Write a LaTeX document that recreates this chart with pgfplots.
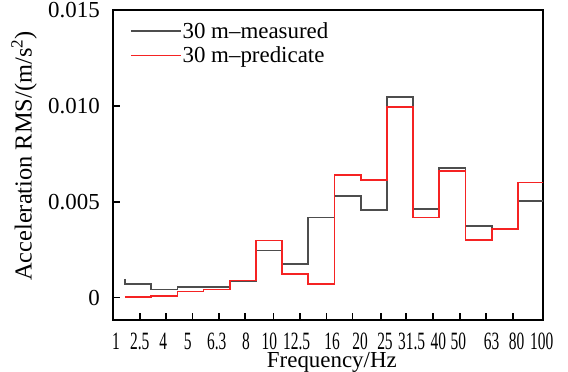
\documentclass[border=0pt]{standalone}
\usepackage{fontspec}
\setmainfont{Liberation Serif}
\newfontfamily\condfont[FakeStretch=0.62]{Liberation Serif}
\usepackage{pgfplots}
\pgfplotsset{compat=1.18}
\definecolor{meas}{RGB}{77,77,77}
\definecolor{pred}{RGB}{245,35,35}
\begin{document}
\begin{tikzpicture}
\path[use as bounding box] (-113bp,-52bp) rectangle (455bp,320bp);
\begin{axis}[
  scale only axis, width=430bp, height=310bp,
  xmin=-0.458, xmax=15.96, ymin=-0.00117, ymax=0.015,
  axis line style={line width=1.6bp},
  tick style={line width=1.6bp, black},
  major tick length=7bp,
  tick align=inside,
  xtick pos=bottom, ytick pos=left,
  xtick={0.573,1.566,2.585,3.589,4.582,5.664,6.682,7.701,8.679,9.774,10.729,11.751,12.791,13.784,14.824},
  xticklabels={},
  extra x ticks={-0.344,0.561,1.462,2.394,3.501,4.62,5.51,6.556,7.904,8.973,9.927,10.947,11.963,12.726,14.001,14.956,15.91},
  extra x tick labels={1,2.5,4,5,6.3,8,10,12.5,16,20,25,31.5,40,50,63,80,100},
  extra x tick style={major tick length=0pt},
  xticklabel style={font=\fontsize{25}{29}\selectfont\condfont, inner sep=0pt, yshift=-13bp},
  ytick={0,0.005,0.01,0.015}, yticklabels={0,0.005,0.010,0.015},
  scaled y ticks=false,
  yticklabel style={font=\fontsize{23}{27}\selectfont, inner sep=0pt, xshift=-13bp},
  xlabel={Frequency/Hz},
  ylabel={Acceleration RMS/(m/s\textsuperscript{2})},
  xlabel style={at={(axis description cs:0.509,-0.138)}, anchor=center, inner sep=0pt, font=\fontsize{23}{27}\selectfont},
  ylabel style={at={(axis description cs:-0.207,0.529)}, anchor=center, inner sep=0pt, font=\fontsize{24.5}{28}\selectfont},
  legend style={at={(0,1)}, anchor=north west, draw=none, fill=none, inner sep=0pt, xshift=17bp, yshift=-12bp, row sep=7bp, column sep=1bp, nodes={inner sep=0pt}, font=\fontsize{23}{27}\selectfont},
  legend cell align=left,
  legend image code/.code={\draw[#1, line width=1.4bp] (0bp,0bp) -- (50bp,0bp);},
  every axis plot/.append style={line width=1.7bp},
  const plot,
]
\addplot[meas] coordinates {(0,0.00097) (0,0.00071) (1,0.00042) (2,0.00054) (3,0.00054) (4,0.00086) (5,0.00245) (6,0.00176) (7,0.00418) (8,0.00531) (9,0.00457) (10,0.01048) (11,0.00462) (12,0.00676) (13,0.00375) (14,0.00359) (15,0.00505) (16,0.00505)};
\addlegendentry{30 m--measured}
\addplot[pred] coordinates {(0,0.00002) (1,0.0001) (2,0.00031) (3,0.00042) (4,0.00089) (5,0.00297) (6,0.00123) (7,0.00071) (8,0.00638) (9,0.00613) (10,0.00995) (11,0.00418) (12,0.0066) (13,0.003) (14,0.00358) (15,0.006) (16,0.006)};
\addlegendentry{30 m--predicate}
\end{axis}
\end{tikzpicture}
\end{document}
